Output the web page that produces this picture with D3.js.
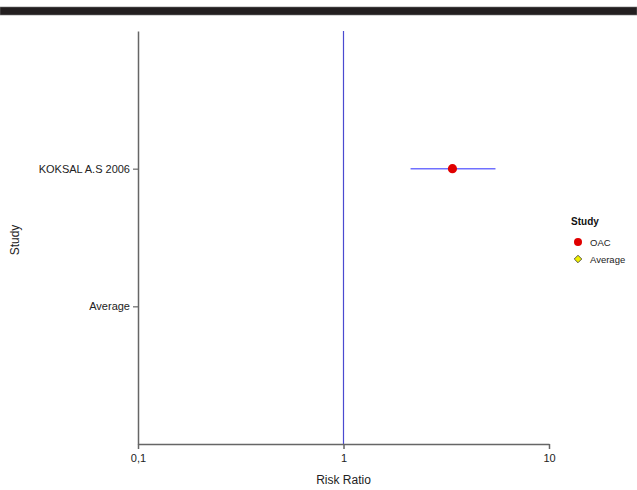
<!DOCTYPE html>
<html>
<head>
<meta charset="utf-8">
<script src="https://cdn.jsdelivr.net/npm/d3@7"></script>
<style>
  body { margin: 0; background: #fff; }
  text { font-family: "Liberation Sans", Arial, sans-serif; }
</style>
</head>
<body>
<script>
// forest plot, one study + average row
const studies = ["KOKSAL A.S 2006", "Average"];
const ratios = [3.39];
const lower = [2.12];
const upper = [5.49];
const xTicks = [0.1, 1, 10];
const xTickLabels = ["0,1", "1", "10"];
const legendNames = ["OAC", "Average"];

const W = 637, H = 490;
const plotL = 138, plotR = 549, plotT = 31, plotB = 444;

const svg = d3.select("body").append("svg")
    .attr("width", W)
    .attr("height", H);

// black band on top
svg.append("rect")
    .attr("x", 0).attr("y", 7)
    .attr("width", W).attr("height", 8)
    .attr("fill", "#231f20")
    .attr("stroke", "#777").attr("stroke-width", 0.6);

const x = d3.scaleLog().domain([0.1, 10]).range([plotL, plotR]);
const y = d3.scalePoint().domain(studies).range([plotT, plotB]).padding(1);

// reference line at 1
svg.append("line")
    .attr("x1", x(1)).attr("x2", x(1))
    .attr("y1", plotT).attr("y2", plotB)
    .attr("stroke", "#4a4ad0").attr("stroke-width", 1.2);

// x axis
const xAxis = svg.append("g")
    .attr("transform", `translate(0,${plotB})`)
    .call(d3.axisBottom(x).tickValues(xTicks).tickFormat((d, i) => xTickLabels[i]).tickSize(5).tickSizeOuter(0));
xAxis.select(".domain").attr("stroke", "#666").attr("stroke-width", 1.5);
xAxis.selectAll(".tick line").attr("stroke", "#666").attr("stroke-width", 1.5);
xAxis.selectAll(".tick text").attr("font-size", 11).attr("fill", "#222").attr("dy", "0.9em");

// y axis
const yAxis = svg.append("g")
    .attr("transform", `translate(${plotL},0)`)
    .call(d3.axisLeft(y).tickSize(5).tickSizeOuter(0));
yAxis.select(".domain").attr("stroke", "#666").attr("stroke-width", 1.5);
yAxis.selectAll(".tick line").attr("stroke", "#666").attr("stroke-width", 1.2);
yAxis.selectAll(".tick text").attr("font-size", 11).attr("fill", "#222").attr("x", -8);

// CI lines + point
const rows = ratios.map((r, i) => ({ study: studies[i], r, lo: lower[i], hi: upper[i] }));
svg.selectAll(".ci").data(rows).enter().append("line")
    .attr("x1", d => x(d.lo)).attr("x2", d => x(d.hi))
    .attr("y1", d => y(d.study)).attr("y2", d => y(d.study))
    .attr("stroke", "#7070ff").attr("stroke-width", 1.5);
svg.selectAll(".pt").data(rows).enter().append("circle")
    .attr("cx", d => x(d.r)).attr("cy", d => y(d.study))
    .attr("r", 4.6)
    .attr("fill", "#e00000");

// axis titles
svg.append("text")
    .attr("x", (plotL + plotR) / 2).attr("y", 484)
    .attr("text-anchor", "middle").attr("font-size", 12).attr("fill", "#222")
    .text("Risk Ratio");
svg.append("text")
    .attr("transform", "translate(19,240) rotate(-90)")
    .attr("text-anchor", "middle").attr("font-size", 12).attr("fill", "#222")
    .text("Study");

// legend
const lg = svg.append("g").attr("transform", "translate(578,0)");
lg.append("text").attr("x", 7).attr("y", 225)
    .attr("text-anchor", "middle").attr("font-size", 10).attr("font-weight", "bold").attr("fill", "#111")
    .text("Study");
lg.append("circle").attr("cx", 0).attr("cy", 242).attr("r", 4).attr("fill", "#e00000");
lg.append("path")
    .attr("d", d3.symbol().type(d3.symbolDiamond2).size(36)())
    .attr("transform", "translate(0,259)")
    .attr("fill", "#f0f000").attr("stroke", "#333").attr("stroke-width", 0.8);
lg.selectAll(".lt").data(legendNames).enter().append("text")
    .attr("x", 12).attr("y", (d, i) => 245.5 + i * 17)
    .attr("font-size", 9.5).attr("fill", "#222")
    .text(d => d);
</script>
</body>
</html>
